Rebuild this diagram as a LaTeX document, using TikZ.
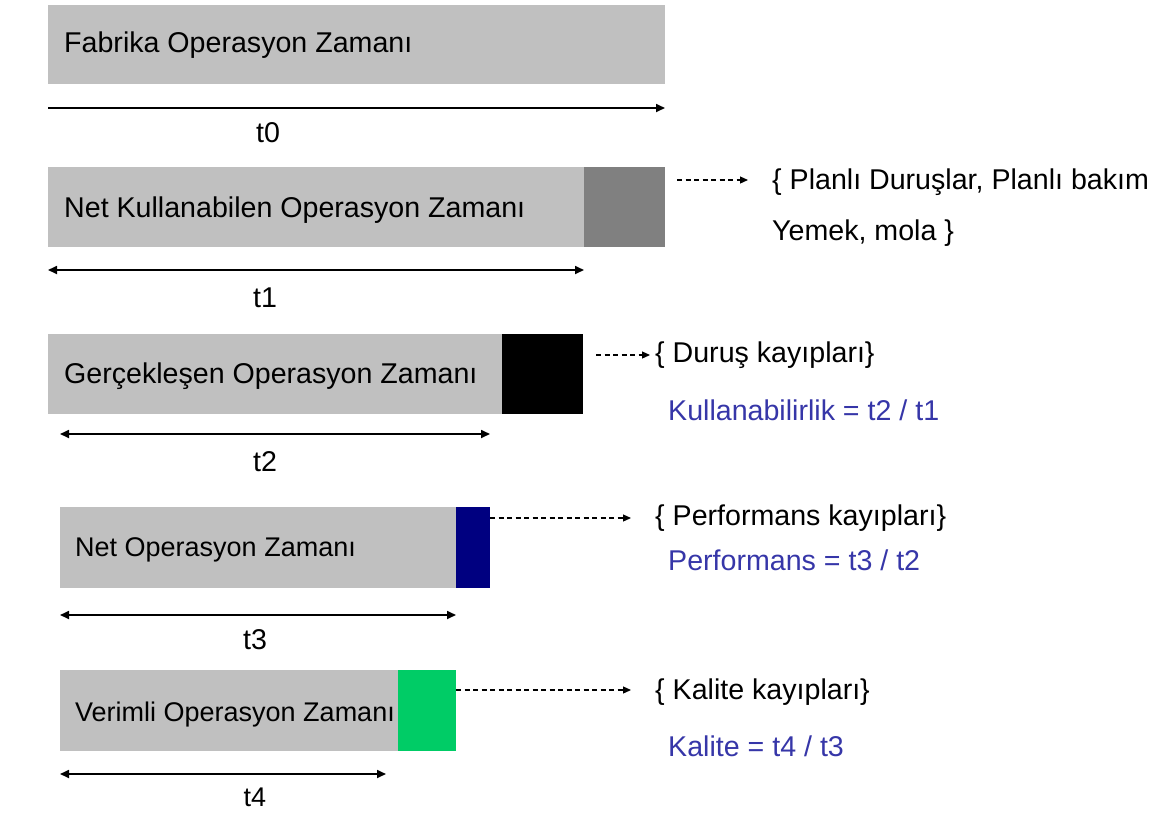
\documentclass[tikz,border=0pt]{standalone}
\usepackage{fontspec}
\setmainfont{Liberation Sans}
\usetikzlibrary{arrows.meta}
\definecolor{barfill}{HTML}{C0C0C0}
\definecolor{plannedloss}{HTML}{808080}
\definecolor{perfloss}{HTML}{000080}
\definecolor{qualloss}{HTML}{00CC66}
\definecolor{ratioblue}{HTML}{3636A8}
\begin{document}
\begin{tikzpicture}[x=1pt,y=-1pt,
  txt/.style={font=\fontsize{28.6}{32}\selectfont, inner sep=0pt},
  smalltxt/.style={font=\fontsize{27}{31}\selectfont, inner sep=0pt},
  bartext/.style={txt, anchor=west},
  seg/.style={draw=none, inner sep=0pt, anchor=north west, minimum height=80pt},
  span/.style={line width=1.7pt, {Triangle[length=9pt,width=8pt]}-{Triangle[length=9pt,width=8pt]}},
  lossarrow/.style={line width=1.2pt, dash pattern=on 5pt off 3.5pt, -{Triangle[length=8pt,width=7pt]}},
  ratio/.style={txt, anchor=west, text=ratioblue}]
\useasboundingbox (0,0) rectangle (1163,812);

% Row 1: plant operating time
\node[seg, fill=barfill, minimum width=617pt, minimum height=79pt] (b0) at (48,5) {};
\node[bartext] (l0) at (64,45) {Fabrika Operasyon Zamanı};
\coordinate (s0a) at (48,108);
\coordinate (s0b) at (665,108);
\draw[line width=1.7pt, -{Triangle[length=9pt,width=8pt]}] (s0a) -- (s0b);
\node[txt] (t0) at (268,133) {t0};

% Row 2: net available operating time
\node[seg, fill=barfill, minimum width=536pt] (b1) at (48,167) {};
\node[seg, fill=plannedloss, minimum width=81pt] (x1) at (584,167) {};
\node[bartext] (l1) at (64,210) {Net Kullanabilen Operasyon Zamanı};
\coordinate (s1a) at (48,270);
\coordinate (s1b) at (584,270);
\draw[span] (s1a) -- (s1b);
\node[txt] (t1) at (265,298) {t1};
\coordinate (d1) at (677,180);
\node[txt, anchor=west] (p1) at (772,182) {\{ Planlı Duruşlar, Planlı bakım};
\node[txt, anchor=west] (p1b) at (772,233) {Yemek, mola \}};
\draw[lossarrow] (d1) -- ([xshift=-24pt]p1.west |- d1);

% Row 3: realised operating time
\node[seg, fill=barfill, minimum width=454pt] (b2) at (48,334) {};
\node[seg, fill=black, minimum width=81pt] (x2) at (502,334) {};
\node[bartext] (l2) at (64,376) {Gerçekleşen Operasyon Zamanı};
\coordinate (s2a) at (60,434);
\coordinate (s2b) at (490,434);
\draw[span] (s2a) -- (s2b);
\node[txt] (t2) at (265,462) {t2};
\coordinate (d2) at (596,355);
\node[txt, anchor=west] (p2) at (655,355) {\{ Duruş kayıpları\}};
\draw[lossarrow] (d2) -- ([xshift=-5pt]p2.west |- d2);
\node[ratio] (r2) at (668,410) {Kullanabilirlik = t2 / t1};

% Row 4: net operating time
\node[seg, fill=barfill, minimum width=396pt, minimum height=81pt] (b3) at (60,507) {};
\node[seg, fill=perfloss, minimum width=34pt, minimum height=81pt] (x3) at (456,507) {};
\node[smalltxt, anchor=west] (l3) at (75,550) {Net Operasyon Zamanı};
\coordinate (s3a) at (60,615);
\coordinate (s3b) at (456,615);
\draw[span] (s3a) -- (s3b);
\node[txt] (t3) at (255,640) {t3};
\coordinate (d3) at (490,518);
\node[txt, anchor=west] (p3) at (655,518) {\{ Performans kayıpları\}};
\draw[lossarrow] (d3) -- ([xshift=-24pt]p3.west |- d3);
\node[ratio] (r3) at (668,560) {Performans = t3 / t2};

% Row 5: productive operating time
\node[seg, fill=barfill, minimum width=338pt, minimum height=81pt] (b4) at (60,670) {};
\node[seg, fill=qualloss, minimum width=58pt, minimum height=81pt] (x4) at (398,670) {};
\node[smalltxt, anchor=west] (l4) at (75,715) {Verimli Operasyon Zamanı};
\coordinate (s4a) at (60,774);
\coordinate (s4b) at (386,774);
\draw[span] (s4a) -- (s4b);
\node[smalltxt] (t4) at (255,797) {t4};
\coordinate (d4) at (456,690);
\node[txt, anchor=west] (p4) at (655,692) {\{ Kalite kayıpları\}};
\draw[lossarrow] (d4) -- ([xshift=-24pt]p4.west |- d4);
\node[ratio] (r4) at (668,746) {Kalite = t4 / t3};
\end{tikzpicture}
\end{document}
